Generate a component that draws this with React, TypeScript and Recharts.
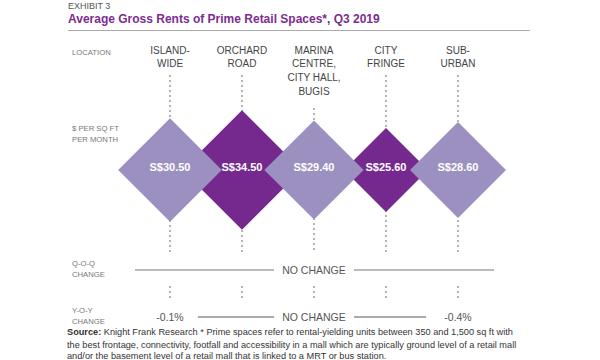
import React from 'react';
import { ScatterChart, Scatter, XAxis, YAxis, ReferenceLine } from 'recharts';

const locations = [
  ['ISLAND-', 'WIDE'],
  ['ORCHARD', 'ROAD'],
  ['MARINA', 'CENTRE,', 'CITY HALL,', 'BUGIS'],
  ['CITY', 'FRINGE'],
  ['SUB-', 'URBAN'],
];
const rents = [30.5, 34.5, 29.4, 25.6, 28.6];
const qoqChange = ['NO CHANGE', 'NO CHANGE', 'NO CHANGE', 'NO CHANGE', 'NO CHANGE'];
const yoyChange = ['-0.1%', 'NO CHANGE', 'NO CHANGE', 'NO CHANGE', '-0.4%'];
const darkLocations = [1, 3];

const FONT = '"Liberation Sans", Arial, Helvetica, sans-serif';
const LIGHT = '#9b90c0';
const DARK = '#75298f';
const M_LEFT = 134;
const M_RIGHT = 106;
const BAND = (600 - M_LEFT - M_RIGHT) / locations.length;
const ROW_Y = 170;
const colX = (i: number) => M_LEFT + BAND * (i + 0.5);

const points = rents.map((rent, i) => ({ idx: i, row: ROW_Y, rent }));
const lightPts = points.filter(p => !darkLocations.includes(p.idx));
const darkPts = points.filter(p => darkLocations.includes(p.idx));

const Diamond = (fill: string) => (props: any) => {
  const { cx, cy, payload } = props;
  const h = 42 + (payload.rent - 25.6) * 2;
  return (
    <g>
      <path d={`M${cx},${cy - h}L${cx + h},${cy}L${cx},${cy + h}L${cx - h},${cy}Z`} fill={fill} />
      <text x={cx} y={cy + 1} textAnchor="middle" fill="#fff" fontSize={11} fontWeight="bold" fontFamily={FONT}>
        {`S$${payload.rent.toFixed(2)}`}
      </text>
    </g>
  );
};

const changeRow = (values: string[], y: number, stroke: string, sw: number) => {
  const out: React.ReactNode[] = [];
  let i = 0;
  while (i < values.length) {
    if (values[i] === 'NO CHANGE') {
      let j = i;
      while (j + 1 < values.length && values[j + 1] === 'NO CHANGE') j++;
      const start = i === 0 ? 135 : colX(i - 1) + 28;
      const end = j === values.length - 1 ? 494 : colX(j + 1) - 32;
      const mid = (colX(i) + colX(j)) / 2;
      out.push(<line key={'a' + i} x1={start} x2={mid - 40} y1={y} y2={y} stroke={stroke} strokeWidth={sw} />);
      out.push(<line key={'b' + i} x1={mid + 40} x2={end} y1={y} y2={y} stroke={stroke} strokeWidth={sw} />);
      out.push(<text key={'t' + i} x={mid} y={y + 4} textAnchor="middle" fontSize={10.5} fill="#555" fontFamily={FONT}>{values[i]}</text>);
      i = j + 1;
    } else {
      out.push(<text key={'v' + i} x={colX(i)} y={y + 4} textAnchor="middle" fontSize={10.5} fill="#555" fontFamily={FONT}>{values[i]}</text>);
      i++;
    }
  }
  return out;
};

const rowLabel = (lines: string[], y: number) => (
  <text x={72} fill="#777" fontSize={7.7} fontFamily={FONT}>
    {lines.map((l, i) => (
      <tspan key={i} x={72} y={y + i * 10.5}>{l}</tspan>
    ))}
  </text>
);

export default function App() {
  return (
    <div style={{ position: 'absolute', left: 0, top: 0, width: 600, height: 360, background: '#fff', fontFamily: FONT }}>
      <ScatterChart width={600} height={360} margin={{ top: 0, right: M_RIGHT, bottom: 0, left: M_LEFT }}>
        <XAxis type="number" dataKey="idx" domain={[-0.5, locations.length - 0.5]} hide height={0} />
        <YAxis type="number" dataKey="row" domain={[0, 360]} reversed hide width={0} />
        {locations.map((l, i) => (
          <ReferenceLine
            key={'u' + i}
            segment={[{ x: i, y: 75 + (l.length - 2) * 16.5 }, { x: i, y: 252 }]}
            stroke="#666"
            strokeDasharray="2 3"
            ifOverflow="visible"
          />
        ))}
        {locations.map((_, i) => (
          <ReferenceLine
            key={'d' + i}
            segment={[{ x: i, y: 286 }, { x: i, y: 299 }]}
            stroke="#666"
            strokeDasharray="2 3"
            ifOverflow="visible"
          />
        ))}
        <Scatter data={darkPts} shape={Diamond(DARK)} isAnimationActive={false} />
        <Scatter data={lightPts} shape={Diamond(LIGHT)} isAnimationActive={false} />
      </ScatterChart>
      <svg width={600} height={360} style={{ position: 'absolute', left: 0, top: 0, pointerEvents: 'none' }}>
        <text x={68} y={9} fontSize={9} fill="#555" fontFamily={FONT}>EXHIBIT 3</text>
        <text x={68} y={23} fontSize={12} fontWeight="bold" fill="#7b2d90" fontFamily={FONT}>
          Average Gross Rents of Prime Retail Spaces*, Q3 2019
        </text>
        <line x1={68} x2={530} y1={30.5} y2={30.5} stroke="#aaa" strokeWidth={1} />
        {locations.map((lines, c) => (
          <text key={c} textAnchor="middle" fill="#444" fontSize={10} fontFamily={FONT}>
            {lines.map((l, i) => (
              <tspan key={i} x={colX(c)} y={53.5 + i * 13.7}>{l}</tspan>
            ))}
          </text>
        ))}
        {rowLabel(['LOCATION'], 54.5)}
        {rowLabel(['$ PER SQ FT', 'PER MONTH'], 131)}
        {rowLabel(['Q-O-Q', 'CHANGE'], 266)}
        {rowLabel(['Y-O-Y', 'CHANGE'], 313)}
        {changeRow(qoqChange, 270, '#777', 1)}
        {changeRow(yoyChange, 317, '#aaa', 2)}
        <text fontSize={9.2} fill="#333" fontFamily={FONT}>
          <tspan x={67} y={335}><tspan fontWeight="bold">Source:</tspan> Knight Frank Research * Prime spaces refer to rental-yielding units between 350 and 1,500 sq ft with</tspan>
          <tspan x={67} y={347.5}>the best frontage, connectivity, footfall and accessibility in a mall which are typically ground level of a retail mall</tspan>
          <tspan x={67} y={359}>and/or the basement level of a retail mall that is linked to a MRT or bus station.</tspan>
        </text>
      </svg>
    </div>
  );
}
